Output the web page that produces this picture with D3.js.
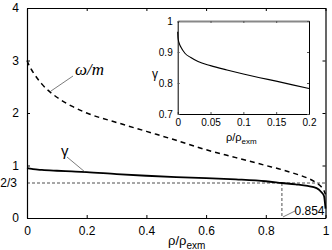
<!DOCTYPE html>
<html><head><meta charset="utf-8">
<script src="https://cdn.jsdelivr.net/npm/d3@7"></script>
<style>
html,body{margin:0;padding:0;background:#fff;}
svg{display:block;font-family:"Liberation Sans",Arial,sans-serif;}
</style></head>
<body>
<svg id="c" width="332" height="250"></svg>
<script>
// ---- data ----
const rhoMain   = [0, 0.005, 0.02, 0.05, 0.1, 0.15, 0.2, 0.3, 0.4, 0.5, 0.6, 0.7, 0.8, 0.854, 0.9, 0.94, 0.97, 0.985, 0.995, 1.0];
const omegaMain = [3.0, 2.93, 2.78, 2.55, 2.3, 2.13, 2.0, 1.82, 1.65, 1.48, 1.3, 1.15, 1.0, 0.92, 0.84, 0.76, 0.67, 0.6, 0.52, 0.45];
const gammaMain = [0.95, 0.945, 0.93, 0.915, 0.9, 0.888, 0.875, 0.835, 0.805, 0.78, 0.76, 0.735, 0.70, 0.667, 0.64, 0.61, 0.57, 0.5, 0.42, 0.18];
const rhoInset   = [0, 0.0005, 0.002, 0.005, 0.011, 0.02, 0.031, 0.05, 0.075, 0.1, 0.125, 0.15, 0.175, 0.2];
const gammaInset = [0.965, 0.945, 0.93, 0.915, 0.896, 0.882, 0.869, 0.856, 0.842, 0.829, 0.817, 0.806, 0.794, 0.782];
const xTicksMain = [0, 0.2, 0.4, 0.6, 0.8, 1];
const xTickLabelsMain = ["0", "0.2", "0.4", "0.6", "0.8", "1"];
const yTicksMain = [0, 1, 2, 3, 4];
const yTickLabelsMain = ["0", "1", "2", "3", "4"];
const twoThirds = 2/3, twoThirdsLabel = "2/3";
const rhoCross = 0.854, rhoCrossLabel = "0.854";
const xTicksInset = [0, 0.05, 0.1, 0.15, 0.2];
const xTickLabelsInset = ["0", "0.05", "0.1", "0.15", "0.2"];
const yTicksInset = [0.7, 0.8, 0.9, 1];
const yTickLabelsInset = ["0.7", "0.8", "0.9", "1"];

const svg = d3.select("#c");

// ---- main plot ----
const x = d3.scaleLinear().domain([0, 1]).range([27, 325.5]);
const y = d3.scaleLinear().domain([0, 4]).range([218, 8]);

// reference lines
svg.append("line").attr("x1", x(0)).attr("x2", x(1)).attr("y1", y(twoThirds)).attr("y2", y(twoThirds))
  .attr("stroke", "#222").attr("stroke-width", 0.8).attr("stroke-dasharray", "3,2");
svg.append("line").attr("x1", x(rhoCross)).attr("x2", x(rhoCross)).attr("y1", y(twoThirds)).attr("y2", y(0))
  .attr("stroke", "#222").attr("stroke-width", 0.8).attr("stroke-dasharray", "3,2");

const line = (xs, sx, sy) => d3.line().x((d, i) => sx(xs[i])).y(d => sy(d)).curve(d3.curveMonotoneX);

svg.append("path").datum(omegaMain).attr("d", line(rhoMain, x, y))
  .attr("fill", "none").attr("stroke", "#000").attr("stroke-width", 1.5).attr("stroke-dasharray", "5,4");
svg.append("path").datum(gammaMain).attr("d", line(rhoMain, x, y))
  .attr("fill", "none").attr("stroke", "#000").attr("stroke-width", 1.8);

// axes (inward ticks)
const fmt = (vals, labs) => (d) => labs[vals.indexOf(d)];
const axB = svg.append("g").attr("transform", `translate(0,${y(0)})`)
  .call(d3.axisBottom(x).tickValues(xTicksMain).tickFormat(fmt(xTicksMain, xTickLabelsMain)).tickSizeInner(-3).tickSizeOuter(0).tickPadding(8));
const axT = svg.append("g").attr("transform", `translate(0,${y(4)})`)
  .call(d3.axisTop(x).tickValues(xTicksMain).tickFormat("").tickSizeInner(-3).tickSizeOuter(0));
const axL = svg.append("g").attr("transform", `translate(${x(0)},0)`)
  .call(d3.axisLeft(y).tickValues(yTicksMain).tickFormat(fmt(yTicksMain, yTickLabelsMain)).tickSizeInner(-3).tickSizeOuter(0).tickPadding(8));
const axR = svg.append("g").attr("transform", `translate(${x(1)},0)`)
  .call(d3.axisRight(y).tickValues(yTicksMain).tickFormat("").tickSizeInner(-3).tickSizeOuter(0));
[axB, axT, axL, axR].forEach(g => {
  g.selectAll(".domain").attr("stroke", "#000").attr("stroke-width", 1.2);
  g.selectAll(".tick line").attr("stroke", "#000");
  g.selectAll("text").attr("font-size", 12).attr("font-family", "Liberation Sans, Arial, sans-serif").attr("fill", "#000");
});
svg.append("text").attr("x", 17).attr("y", y(twoThirds)).attr("dy", "0.35em").attr("text-anchor", "end")
  .attr("font-size", 12).text(twoThirdsLabel);

// x title
const xt = svg.append("text").attr("x", 168).attr("y", 245).attr("font-size", 13);
xt.append("tspan").text("ρ/ρ");
xt.append("tspan").attr("dy", 4).attr("font-size", 10).text("exm");

// annotations
svg.append("line").attr("x1", 73).attr("y1", 76).attr("x2", 51).attr("y2", 91).attr("stroke", "#444").attr("stroke-width", 0.7);
svg.append("text").attr("x", 75).attr("y", 75).attr("font-family", "Liberation Serif, Times New Roman, serif")
  .attr("font-style", "italic").attr("font-size", 17).text("ω/m");
svg.append("line").attr("x1", 67).attr("y1", 157).attr("x2", 85).attr("y2", 172).attr("stroke", "#444").attr("stroke-width", 0.7);
svg.append("text").attr("x", 61).attr("y", 156).attr("font-size", 15).text("γ");
svg.append("line").attr("x1", x(rhoCross) + 1).attr("y1", 217).attr("x2", 295).attr("y2", 211).attr("stroke", "#444").attr("stroke-width", 0.7);
svg.append("text").attr("x", 294.5).attr("y", 214.5).attr("font-size", 12).text(rhoCrossLabel);

// ---- inset ----
const xi = d3.scaleLinear().domain([0, 0.2]).range([177.7, 309]);
const yi = d3.scaleLinear().domain([0.7, 1]).range([114, 21]);
svg.append("rect").attr("x", xi(0)).attr("y", yi(1)).attr("width", xi(0.2) - xi(0)).attr("height", yi(0.7) - yi(1)).attr("fill", "#fff");
svg.append("path").datum(gammaInset).attr("d", line(rhoInset, xi, yi))
  .attr("fill", "none").attr("stroke", "#000").attr("stroke-width", 1.1);
const iB = svg.append("g").attr("transform", `translate(0,${yi(0.7)})`)
  .call(d3.axisBottom(xi).tickValues(xTicksInset).tickFormat(fmt(xTicksInset, xTickLabelsInset)).tickSizeInner(-2).tickSizeOuter(0).tickPadding(5));
const iT = svg.append("g").attr("transform", `translate(0,${yi(1)})`)
  .call(d3.axisTop(xi).tickValues(xTicksInset).tickFormat("").tickSizeInner(-2).tickSizeOuter(0));
const iL = svg.append("g").attr("transform", `translate(${xi(0)},0)`)
  .call(d3.axisLeft(yi).tickValues(yTicksInset).tickFormat(fmt(yTicksInset, yTickLabelsInset)).tickSizeInner(-2).tickSizeOuter(0).tickPadding(5));
const iR = svg.append("g").attr("transform", `translate(${xi(0.2)},0)`)
  .call(d3.axisRight(yi).tickValues(yTicksInset).tickFormat("").tickSizeInner(-2).tickSizeOuter(0));
[iB, iL, iR].forEach(g => g.selectAll(".domain").attr("stroke", "#000").attr("stroke-width", 1));
iT.selectAll(".domain").attr("stroke", "#888").attr("stroke-width", 2);
[iB, iT, iL, iR].forEach(g => {
  g.selectAll(".tick line").attr("stroke", "#555");
  g.selectAll("text").attr("font-size", 10).attr("font-family", "Liberation Sans, Arial, sans-serif").attr("fill", "#000");
});
svg.append("text").attr("x", 152).attr("y", 78).attr("font-size", 12).text("γ");
const it = svg.append("text").attr("x", 226).attr("y", 141).attr("font-size", 11);
it.append("tspan").text("ρ/ρ");
it.append("tspan").attr("dy", 3).attr("font-size", 8).text("exm");
</script>
</body></html>
